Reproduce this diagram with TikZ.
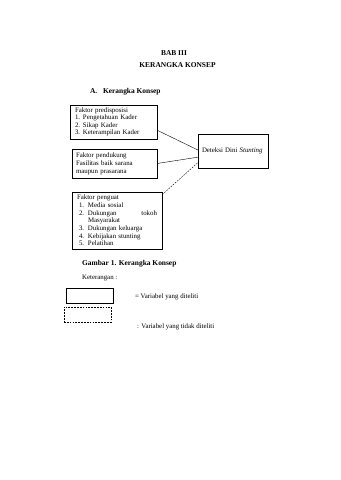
\documentclass[tikz,border=0pt]{standalone}
\usepackage{fontspec}
\setmainfont{Liberation Serif}
\usetikzlibrary{positioning,calc}

\newcommand{\itemno}[2]{\makebox[14pt][l]{#1}#2}
\newcommand{\itemnob}[2]{\hspace*{3.5pt}\makebox[15.75pt][l]{#1}#2}

\begin{document}
\begin{tikzpicture}[
        x=1.75pt, y=-1.75pt,
        box/.style={rectangle, draw=black, line width=0.7pt, inner xsep=8.75pt, inner ysep=0pt, align=left, font=\fontsize{12pt}{13pt}\selectfont},
        legendbox/.style={rectangle, draw=black, line width=0.7pt, minimum width=82.25pt, minimum height=26.25pt},
        heading/.style={font=\fontsize{13pt}{15pt}\selectfont\bfseries, inner sep=0pt},
        note/.style={font=\fontsize{12pt}{14pt}\selectfont, inner sep=0pt, anchor=west},
        link/.style={line width=0.7pt}
    ]
    \useasboundingbox (0,0) rectangle (340,480);

    % Titles
    \node[heading] (bab) at (174,53) {BAB III};
    \node[heading] (judul) at (177.5,65) {KERANGKA KONSEP};
    \node[heading, anchor=west] (subjudul) at (90,92) {A.\hspace{10pt}Kerangka Konsep};

    % === Faktor boxes (left) ===
    \node[box, text width=134.75pt, minimum height=59.5pt] (predis) at (113.5,122) {
        Faktor predisposisi\\
        \itemno{1.}{Pengetahuan Kader}\\
        \itemno{2.}{Sikap Kader}\\
        \itemno{3.}{Keterampilan Kader}
    };
    \node[box, inner xsep=7pt, text width=134.75pt, minimum height=50.75pt, font=\fontsize{12pt}{14pt}\selectfont] (dukung) at (114.5,163.5) {
        Faktor pendukung\\
        Fasilitas baik sarana\\
        maupun prasarana
    };
    \node[box, text width=140pt, minimum height=99.75pt, font=\fontsize{12pt}{13.4pt}\selectfont] (penguat) at (117,220.5) {
        Faktor penguat\\
        \itemnob{1.}{Media sosial}\\
        \itemnob{2.}{Dukungan\hfill tokoh}\\
        \hspace*{19.25pt}Masyarakat\\
        \itemnob{3.}{Dukungan keluarga}\\
        \itemnob{4.}{Kebijakan stunting}\\
        \itemnob{5.}{Pelatihan}
    };

    % === Outcome (right) ===
    \node[box, inner xsep=7pt, text width=108.5pt, minimum height=59.5pt] (deteksi) at (233,151) {\mbox{Deteksi Dini \textit{Stunting}}\\[4pt]};

    % Connectors
    \draw[link] ($(predis.north east)!0.74!(predis.south east)$) -- ($(deteksi.north west)!0.47!(deteksi.south west)$);
    \draw[link] (dukung.east) -- ($(deteksi.north west)!0.68!(deteksi.south west)$);
    \draw[link, densely dashed] ($(penguat.north east)!0.05!(penguat.south east)$) -- ($(deteksi.north west)!0.84!(deteksi.south west)$);

    % Caption and legend
    \node[heading, anchor=west] (gambar) at (82,264) {Gambar 1. Kerangka Konsep};
    \node[note] (ket) at (82,278) {Keterangan :};
    \node[legendbox] (teliti) at (89.5,295.5) {};
    \node[legendbox, densely dashed] (tidak) at (87.5,314.5) {};
    \node[note] (teliti label) at (135,297) {= Variabel yang diteliti};
    \node[note] (tidak label) at (137,327) {: Variabel yang tidak diteliti};

\end{tikzpicture}
\end{document}
